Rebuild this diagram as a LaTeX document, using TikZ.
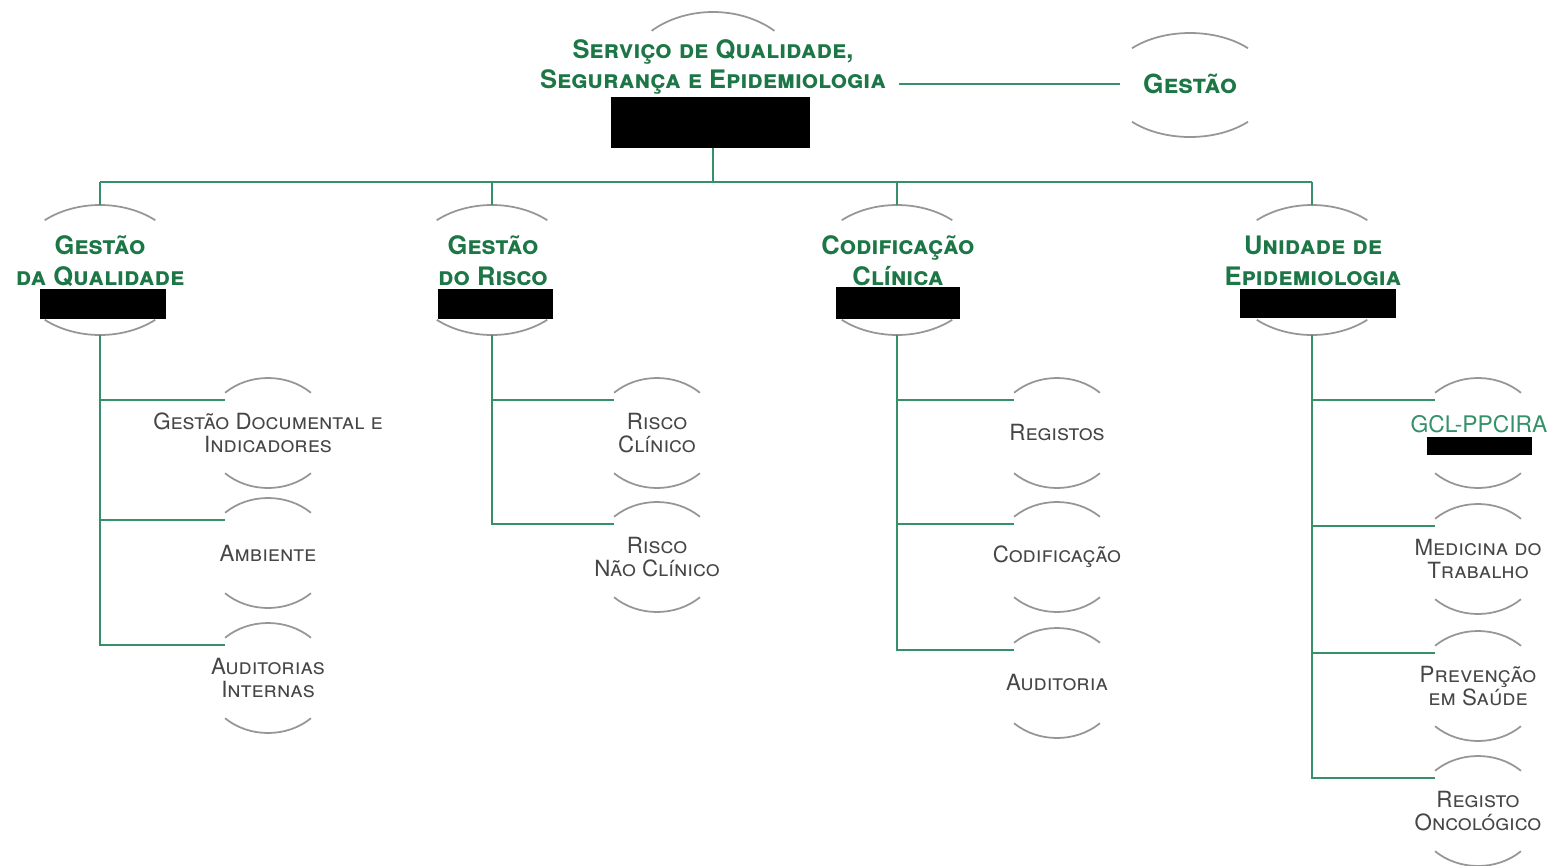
\documentclass[tikz,border=0pt]{standalone}
\usepackage{fontspec}
\setmainfont{TeX Gyre Heros}
\usetikzlibrary{calc}
\definecolor{linkgreen}{RGB}{52,145,105}
\definecolor{headgreen}{RGB}{28,118,70}
\definecolor{rimgray}{RGB}{150,150,150}
\definecolor{subgray}{RGB}{70,70,70}
\begin{document}
\begin{tikzpicture}[x=0.02cm,y=0.02cm,
        link/.style={draw=linkgreen,line width=1.1pt},
        rim/.style={draw=rimgray,line width=1pt},
        redact/.style={fill=black,inner sep=0pt},
        head/.style={align=center,text=headgreen,font=\bfseries\scshape\fontsize{14.5}{17}\selectfont},
        unit/.style={align=center,text=headgreen,font=\bfseries\scshape\fontsize{14.5}{17.6}\selectfont},
        sub/.style={align=center,text=subgray,font=\scshape\fontsize{12.7}{13}\selectfont}]
        \useasboundingbox (0,0) rectangle (1553,-866);

        \node[head] (sqe) at (713,-67) {Serviço de Qualidade,\\Segurança e Epidemiologia};
        \node[redact,minimum width=3.98cm,minimum height=1.02cm] (sqe-box) at (710.5,-122.5) {};
        \node[unit,minimum width=2.8cm,font=\bfseries\scshape\fontsize{15}{17}\selectfont] (gest) at (1190,-84) {Gestão};
        \draw[rim] (713,-82) ++(133:90 and 70) arc[start angle=133,end angle=47,x radius=90,y radius=70];
        \draw[rim] (1190,-85) ++(135:82 and 52) arc[start angle=135,end angle=45,x radius=82,y radius=52];
        \draw[rim] (1190,-85) ++(-135:82 and 52) arc[start angle=-135,end angle=-45,x radius=82,y radius=52];

        \node[unit] (gq) at (100,-261) {Gestão\\da Qualidade};
        \node[unit] (gr) at (493,-261) {Gestão\\do Risco};
        \node[unit] (cc) at (898,-261) {Codificação\\Clínica};
        \node[unit] (ue) at (1313,-261) {Unidade de\\Epidemiologia};
        \node[redact,minimum width=2.52cm,minimum height=0.6cm] (gq-box) at (103,-304) {};
        \node[redact,minimum width=2.3cm,minimum height=0.6cm] (gr-box) at (495.5,-304) {};
        \node[redact,minimum width=2.48cm,minimum height=0.64cm] (cc-box) at (898,-303) {};
        \node[redact,minimum width=3.12cm,minimum height=0.58cm] (ue-box) at (1318,-303.5) {};
        \foreach \n/\x in {gq/100,gr/492,cc/897,ue/1312} {
            \coordinate (\n-in) at (\x,-205);
            \coordinate (\n-out) at (\x,-335);
            \draw[rim] (\x,-270) ++(130:86 and 65) arc[start angle=130,end angle=50,x radius=86,y radius=65];
            \draw[rim] (\x,-270) ++(-130:86 and 65) arc[start angle=-130,end angle=-50,x radius=86,y radius=65];
        }

        \node[sub] (doc) at (268,-433) {Gestão Documental e\\Indicadores};
        \node[sub] (amb) at (268,-553) {Ambiente};
        \node[sub] (aud) at (268,-678) {Auditorias\\Internas};
        \node[sub] (rc) at (657,-433) {Risco\\Clínico};
        \node[sub] (rnc) at (657,-557) {Risco\\Não Clínico};
        \node[sub] (reg) at (1057,-433) {Registos};
        \node[sub] (cod) at (1057,-557) {Codificação};
        \node[sub] (audc) at (1057,-683) {Auditoria};
        \node[font=\fontsize{13}{14}\selectfont,text=linkgreen] (gcl) at (1479,-424) {GCL-PPCIRA};
        \node[redact,minimum width=2.1cm,minimum height=0.36cm] (gcl-box) at (1479.5,-446) {};
        \node[sub] (med) at (1478,-559) {Medicina do\\Trabalho};
        \node[sub] (prev) at (1478,-686) {Prevenção\\em Saúde};
        \node[sub] (onc) at (1478,-811) {Registo\\Oncológico};
        \foreach \n/\x/\y in {doc/268/433,amb/268/553,aud/268/678,rc/657/433,rnc/657/557,
                reg/1057/433,cod/1057/557,audc/1057/683,gcl/1478/433,med/1478/559,prev/1478/686,onc/1478/811} {
            \coordinate (\n-in) at (\x-43,-\y+33);
            \draw[rim] (\x,-\y) ++(133:63 and 55) arc[start angle=133,end angle=47,x radius=63,y radius=55];
            \draw[rim] (\x,-\y) ++(-133:63 and 55) arc[start angle=-133,end angle=-47,x radius=63,y radius=55];
        }

        \coordinate (bus) at (713,-182);
        \draw[link] ([xshift=0.14cm]sqe.east |- gest.west) -- (gest.west);
        \draw[link] (sqe-box.south -| bus) -- (bus);
        \draw[link] (bus -| gq-in) -- (bus -| ue-in);
        \draw[link] (bus -| gq-in) -- (gq-in) (bus -| gr-in) -- (gr-in) (bus -| cc-in) -- (cc-in) (bus -| ue-in) -- (ue-in);
        \draw[link] (gq-out) |- (doc-in) (gq-out) |- (amb-in) (gq-out) |- (aud-in);
        \draw[link] (gr-out) |- (rc-in) (gr-out) |- (rnc-in);
        \draw[link] (cc-out) |- (reg-in) (cc-out) |- (cod-in) (cc-out) |- (audc-in);
        \draw[link] (ue-out) |- (gcl-in) (ue-out) |- (med-in) (ue-out) |- (prev-in) (ue-out) |- (onc-in);
    \end{tikzpicture}
\end{document}
